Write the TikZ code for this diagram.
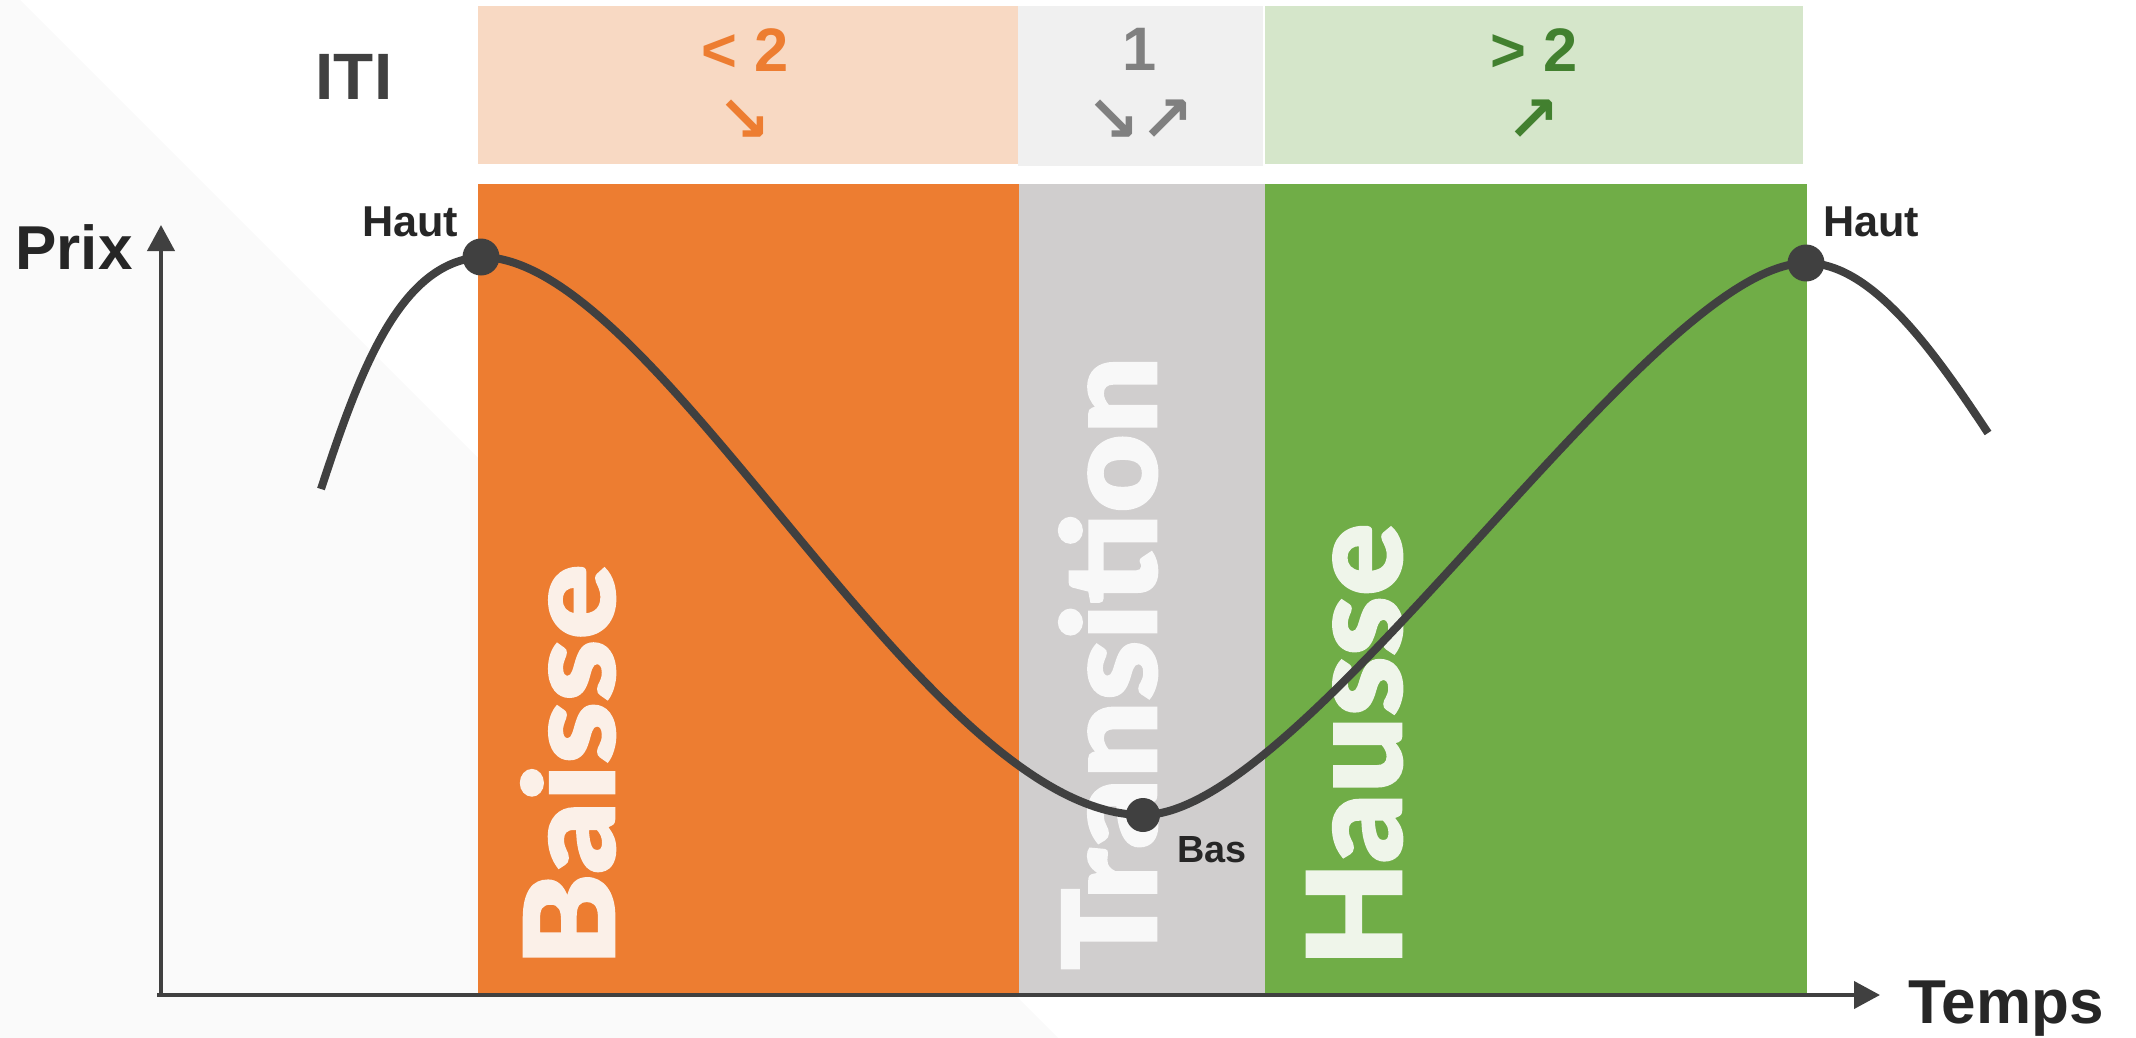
\documentclass[tikz,border=0pt]{standalone}
\usepackage{fontspec}
\usepackage{graphicx}
\setmainfont{Liberation Sans}
\newfontfamily\heavy{Lato Black}[FakeBold=1.2]
\newfontfamily\arrowfont{DejaVu Sans}
\usetikzlibrary{arrows.meta}
\definecolor{bgtri}{HTML}{FAFAFA}
\definecolor{colO}{HTML}{ED7D31}
\definecolor{colG}{HTML}{D0CECE}
\definecolor{colV}{HTML}{70AD47}
\definecolor{hdO}{HTML}{F8D9C3}
\definecolor{hdG}{HTML}{F0F0F0}
\definecolor{hdV}{HTML}{D5E6CA}
\definecolor{txO}{HTML}{ED7D31}
\definecolor{txG}{HTML}{808080}
\definecolor{txV}{HTML}{42802F}
\definecolor{wO}{HTML}{FBF0E8}
\definecolor{wG}{HTML}{F8F8F8}
\definecolor{wV}{HTML}{EFF5EA}
\definecolor{dark}{HTML}{404040}
\definecolor{ink}{HTML}{262626}
\tikzset{
  lbl/.style={inner sep=0, text=ink, font=\bfseries},
  hdr/.style={inner sep=0, font=\bfseries\fontsize{30.7}{31}\selectfont},
  arr/.style={inner sep=0, font=\arrowfont\bfseries\fontsize{32}{32}\selectfont},
  bigword/.style={rotate=90, anchor=south west, inner sep=0},
  dot/.style={circle, fill=dark, inner sep=0, minimum size=18.5pt},
  curve/.style={draw=dark, line width=4pt},
  axis/.style={draw=dark, line width=2pt, -{Triangle[length=13pt,width=13.5pt]}}
}
\begin{document}
\begin{tikzpicture}[x=0.5pt,y=-0.5pt]
\useasboundingbox (0,0) rectangle (2136,1038);
% background diagonal shade
\fill[bgtri] (0,0) -- (20,0) -- (1058,1038) -- (0,1038) -- cycle;
% header boxes
\fill[hdO] (478,6) rectangle (1018,164);
\fill[hdG] (1018,6) rectangle (1263,166);
\fill[hdV] (1265,6) rectangle (1803,164);
% columns
\fill[colO] (478,184) rectangle (1019,995);
\fill[colG] (1019,184) rectangle (1265,995);
\fill[colV] (1265,184) rectangle (1807,995);
% big rotated words
\node[bigword, text=wO] (wBaisse) at (616,967) {\resizebox{201pt}{47pt}{\heavy Baisse}};
\node[bigword, text=wG] (wTrans) at (1158,971) {\resizebox{307pt}{49pt}{\heavy Transition}};
\node[bigword, text=wV] (wHausse) at (1403,967) {\resizebox{221.5pt}{47.5pt}{\heavy Hausse}};
% header texts
\node[lbl, text=dark, font=\bfseries\fontsize{32.8}{33}\selectfont, anchor=base] (iti) at (354,100) {ITI};
\node[hdr, text=txO, anchor=base] (hO) at (745,72) {< 2};
\node[hdr, text=txG, anchor=base] (hG) at (1140,71) {1};
\node[hdr, text=txV, anchor=base] (hV) at (1534,72) {> 2};
\node[arr, text=txO] (aO) at (744,121) {↘};
\node[arr, text=txG] (aG) at (1140,121) {↘↗};
\node[arr, text=txV] (aV) at (1533,121) {↗};
% axes
\coordinate (xs) at (157,995);
\coordinate (xe) at (1880,995);
\coordinate (ys) at (161,997);
\coordinate (ye) at (161,225);
\draw[axis] (xs) -- (xe);
\draw[axis] (ys) -- (ye);
\node[lbl, font=\bfseries\fontsize{31}{31}\selectfont, anchor=base] (prix) at (74,269) {Prix};
\node[lbl, font=\bfseries\fontsize{31}{31}\selectfont, anchor=base] (temps) at (2006,1023) {Temps};
% price curve
\coordinate (p0) at (321,489);
\coordinate (pH1) at (481,257);
\coordinate (pB) at (1143,815);
\coordinate (pH2) at (1806,263);
\coordinate (p1) at (1988,433);
\draw[curve] (p0) .. controls (360,370) and (400,262) .. (pH1)
  .. controls (660,257) and (924,815) .. (pB)
  .. controls (1307,815) and (1651,263) .. (pH2)
  .. controls (1870,263) and (1930,345) .. (p1);
\node[dot] (dH1) at (pH1) {};
\node[dot, minimum size=17pt] (dB) at (pB) {};
\node[dot] (dH2) at (pH2) {};
\node[lbl, font=\bfseries\fontsize{21.6}{22}\selectfont, anchor=base] (lH1) at (410,236) {Haut};
\node[lbl, font=\bfseries\fontsize{21.6}{22}\selectfont, anchor=base] (lH2) at (1871,236) {Haut};
\node[lbl, font=\bfseries\fontsize{18.9}{19}\selectfont, anchor=base] (lB) at (1212,862) {Bas};
\end{tikzpicture}
\end{document}
